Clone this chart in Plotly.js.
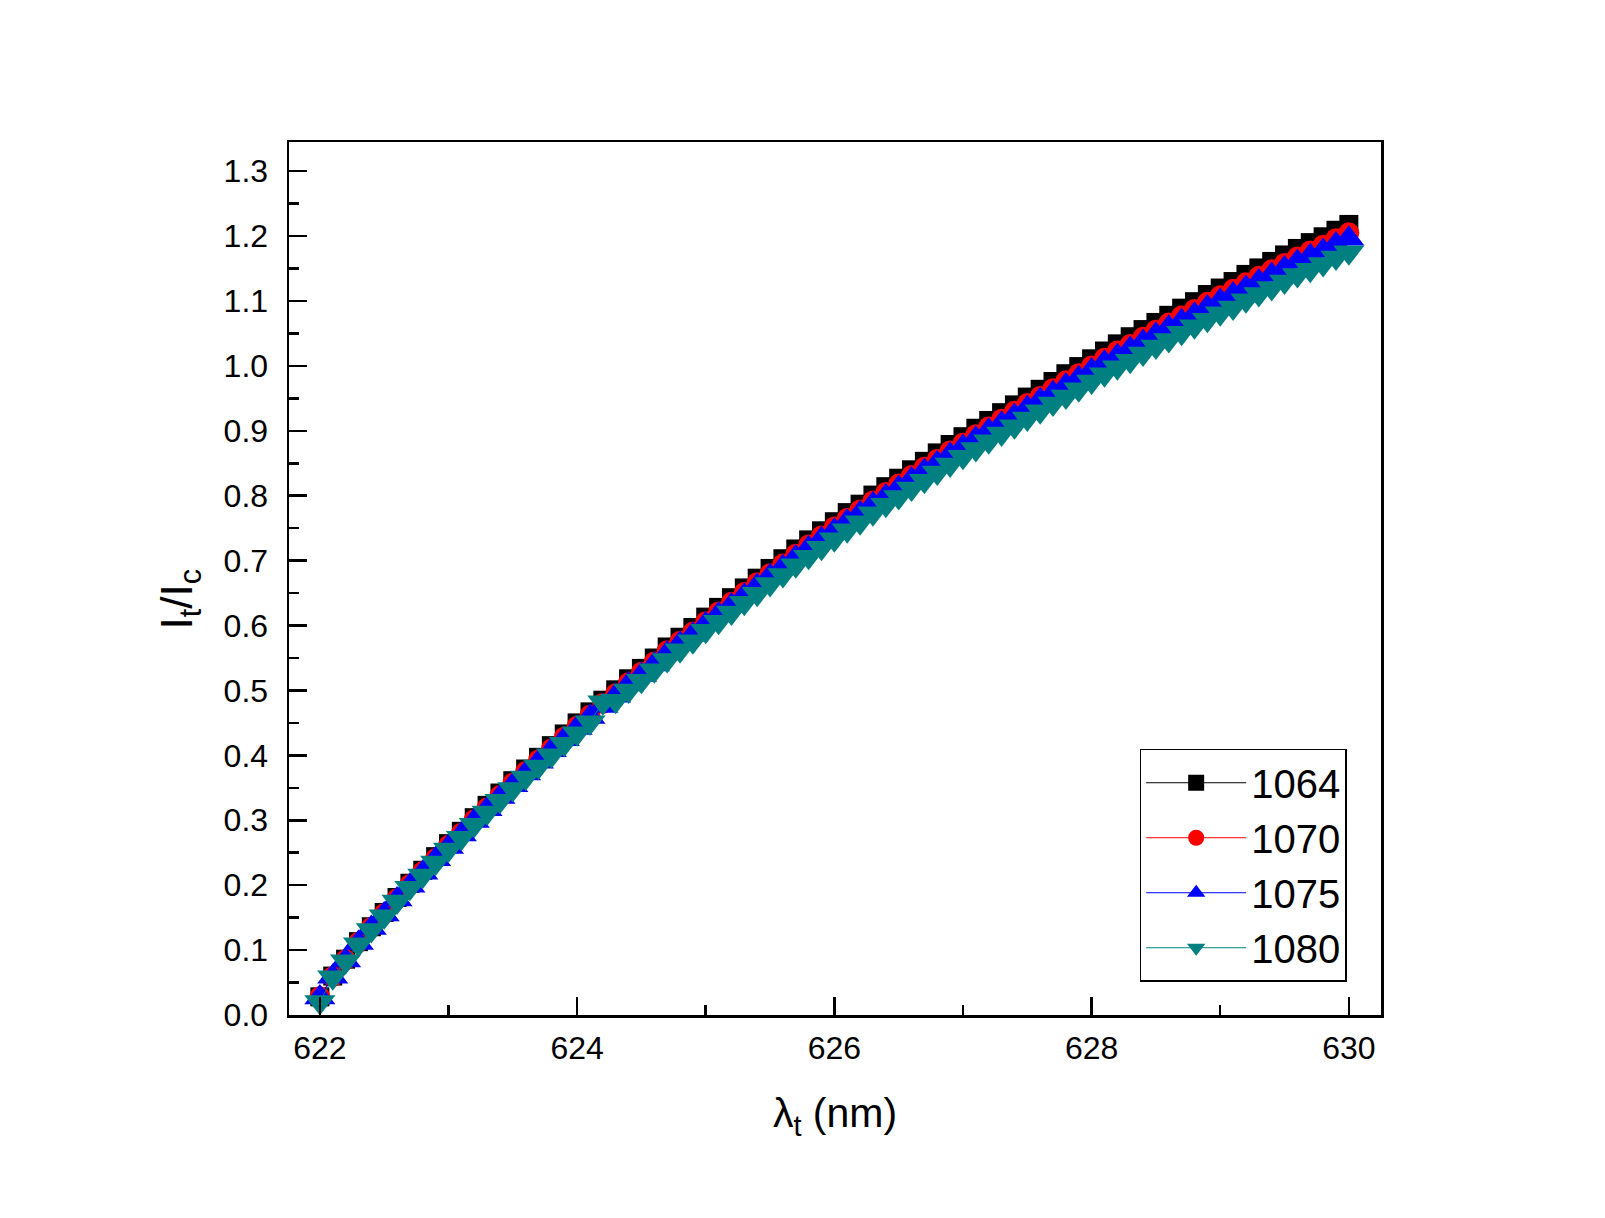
<!DOCTYPE html>
<html>
<head>
<meta charset="utf-8">
<script src="https://cdn.plot.ly/plotly-3.0.1.min.js"></script>
<style>
  html, body { margin: 0; padding: 0; background: #fff; }
  #chart { width: 1605px; height: 1218px; }
</style>
</head>
<body>
<div id="chart"></div>
<script>
// wavelength of the transmitted light, nm
var wavelength = [
  622.0, 622.1, 622.2, 622.3, 622.4, 622.5, 622.6, 622.7, 622.8, 622.9,
  623.0, 623.1, 623.2, 623.3, 623.4, 623.5, 623.6, 623.7, 623.8, 623.9,
  624.0, 624.1, 624.2, 624.3, 624.4, 624.5, 624.6, 624.7, 624.8, 624.9,
  625.0, 625.1, 625.2, 625.3, 625.4, 625.5, 625.6, 625.7, 625.8, 625.9,
  626.0, 626.1, 626.2, 626.3, 626.4, 626.5, 626.6, 626.7, 626.8, 626.9,
  627.0, 627.1, 627.2, 627.3, 627.4, 627.5, 627.6, 627.7, 627.8, 627.9,
  628.0, 628.1, 628.2, 628.3, 628.4, 628.5, 628.6, 628.7, 628.8, 628.9,
  629.0, 629.1, 629.2, 629.3, 629.4, 629.5, 629.6, 629.7, 629.8, 629.9,
  630.0
];

// It/Ic for each pump wavelength
var ratio1064 = [
  0.028, 0.060, 0.086, 0.113, 0.136, 0.158, 0.181, 0.203, 0.223, 0.244,
  0.264, 0.283, 0.304, 0.323, 0.342, 0.361, 0.379, 0.397, 0.415, 0.433,
  0.450, 0.467, 0.485, 0.501, 0.518, 0.534, 0.550, 0.567, 0.582, 0.597,
  0.613, 0.628, 0.643, 0.658, 0.673, 0.688, 0.703, 0.718, 0.732, 0.746,
  0.760, 0.774, 0.787, 0.801, 0.814, 0.827, 0.840, 0.853, 0.866, 0.879,
  0.891, 0.904, 0.916, 0.928, 0.940, 0.952, 0.964, 0.976, 0.988, 0.999,
  1.011, 1.023, 1.034, 1.045, 1.056, 1.067, 1.078, 1.089, 1.099, 1.110,
  1.120, 1.130, 1.141, 1.151, 1.161, 1.171, 1.181, 1.190, 1.199, 1.209,
  1.218
];
var ratio1070 = [
  0.028, 0.059, 0.085, 0.112, 0.135, 0.156, 0.179, 0.201, 0.221, 0.241,
  0.261, 0.280, 0.301, 0.319, 0.338, 0.357, 0.375, 0.393, 0.410, 0.428,
  0.445, 0.462, 0.480, 0.495, 0.512, 0.528, 0.544, 0.561, 0.576, 0.590,
  0.606, 0.621, 0.636, 0.651, 0.666, 0.680, 0.695, 0.710, 0.724, 0.738,
  0.752, 0.765, 0.778, 0.792, 0.805, 0.818, 0.831, 0.844, 0.856, 0.869,
  0.881, 0.894, 0.906, 0.918, 0.930, 0.942, 0.953, 0.965, 0.977, 0.988,
  1.000, 1.012, 1.023, 1.033, 1.044, 1.055, 1.066, 1.077, 1.087, 1.098,
  1.108, 1.118, 1.128, 1.138, 1.148, 1.158, 1.168, 1.177, 1.186, 1.196,
  1.205
];
var ratio1075 = [
  0.027, 0.059, 0.084, 0.111, 0.134, 0.155, 0.178, 0.199, 0.219, 0.240,
  0.259, 0.278, 0.299, 0.317, 0.336, 0.354, 0.372, 0.390, 0.408, 0.425,
  0.442, 0.459, 0.476, 0.492, 0.509, 0.524, 0.540, 0.557, 0.572, 0.586,
  0.602, 0.617, 0.631, 0.646, 0.661, 0.676, 0.690, 0.705, 0.719, 0.733,
  0.746, 0.760, 0.773, 0.787, 0.799, 0.812, 0.825, 0.838, 0.850, 0.863,
  0.875, 0.888, 0.900, 0.911, 0.923, 0.935, 0.947, 0.958, 0.970, 0.981,
  0.993, 1.005, 1.015, 1.026, 1.037, 1.048, 1.059, 1.069, 1.079, 1.090,
  1.100, 1.110, 1.120, 1.130, 1.140, 1.150, 1.160, 1.169, 1.177, 1.187,
  1.196
];
var ratio1080 = [
  0.020, 0.058, 0.083, 0.109, 0.131, 0.152, 0.175, 0.196, 0.215, 0.235,
  0.255, 0.273, 0.293, 0.312, 0.330, 0.348, 0.366, 0.383, 0.400, 0.418,
  0.434, 0.451, 0.482, 0.484, 0.500, 0.515, 0.531, 0.547, 0.562, 0.576,
  0.592, 0.606, 0.620, 0.635, 0.649, 0.664, 0.678, 0.693, 0.706, 0.720,
  0.733, 0.747, 0.759, 0.773, 0.786, 0.798, 0.811, 0.823, 0.836, 0.848,
  0.860, 0.872, 0.884, 0.896, 0.907, 0.919, 0.930, 0.942, 0.953, 0.964,
  0.976, 0.987, 0.998, 1.008, 1.019, 1.030, 1.040, 1.051, 1.061, 1.071,
  1.081, 1.090, 1.101, 1.111, 1.120, 1.130, 1.140, 1.148, 1.157, 1.167,
  1.175
];

var seriesNames = ['1064', '1070', '1075', '1080'];
var seriesValues = [ratio1064, ratio1070, ratio1075, ratio1080];
var seriesColors = ['#000000', '#ff0000', '#0000ff', '#008080'];
var seriesSymbols = ['square', 'circle', 'triangle-up', 'triangle-down'];
var seriesSizes = [19, 21, 27, 27];

var font = 'Arial, "Liberation Sans", sans-serif';

var data = [];
for (var i = 0; i < seriesNames.length; i++) {
  data.push({
    x: wavelength,
    y: seriesValues[i],
    name: seriesNames[i],
    type: 'scatter',
    mode: 'lines+markers',
    line: { color: seriesColors[i], width: 1 },
    marker: { symbol: seriesSymbols[i], size: seriesSizes[i], color: seriesColors[i], line: { width: 0 } }
  });
}

var axisCommon = {
  showline: true,
  mirror: true,
  linecolor: '#000',
  linewidth: 2.5,
  showgrid: false,
  zeroline: false,
  ticks: 'inside',
  ticklen: 18,
  tickwidth: 2.5,
  tickcolor: '#000',
  tickfont: { family: font, size: 32, color: '#000' }
};

var layout = {
  width: 1605,
  height: 1218,
  paper_bgcolor: '#fff',
  plot_bgcolor: '#fff',
  margin: { l: 289, r: 224, t: 142, b: 203 },
  showlegend: true,
  font: { family: font, color: '#000' },
  xaxis: Object.assign({}, axisCommon, {
    range: [621.76, 630.25],
    dtick: 2,
    tick0: 622,
    minor: { ticks: 'inside', dtick: 1, ticklen: 10, tickwidth: 2.5, tickcolor: '#000' },
    ticklabelstandoff: 3,
    title: { text: 'λ<sub>t</sub> (nm)', font: { family: font, size: 41, color: '#000' }, standoff: 34 }
  }),
  yaxis: Object.assign({}, axisCommon, {
    range: [0, 1.345],
    dtick: 0.1,
    tick0: 0,
    tickformat: '.1f',
    minor: { ticks: 'inside', dtick: 0.05, ticklen: 10, tickwidth: 2.5, tickcolor: '#000' },
    ticklabelstandoff: 12
  }),
  annotations: [{
    text: 'I<sub>t</sub>/I<sub>c</sub>',
    xref: 'paper', yref: 'paper',
    x: -0.0998, y: 0.476,
    xanchor: 'center', yanchor: 'middle',
    textangle: -90,
    showarrow: false,
    font: { family: font, size: 44, color: '#000' }
  }],
  legend: {
    x: 0.779,
    y: 0.305,
    xanchor: 'left',
    yanchor: 'top',
    bgcolor: '#fff',
    bordercolor: '#000',
    borderwidth: 1.5,
    itemwidth: 100,
    font: { family: font, size: 40, color: '#000' },
    tracegroupgap: 0
  }
};

Plotly.newPlot('chart', data, layout, { displayModeBar: false, staticPlot: true });
</script>
</body>
</html>
